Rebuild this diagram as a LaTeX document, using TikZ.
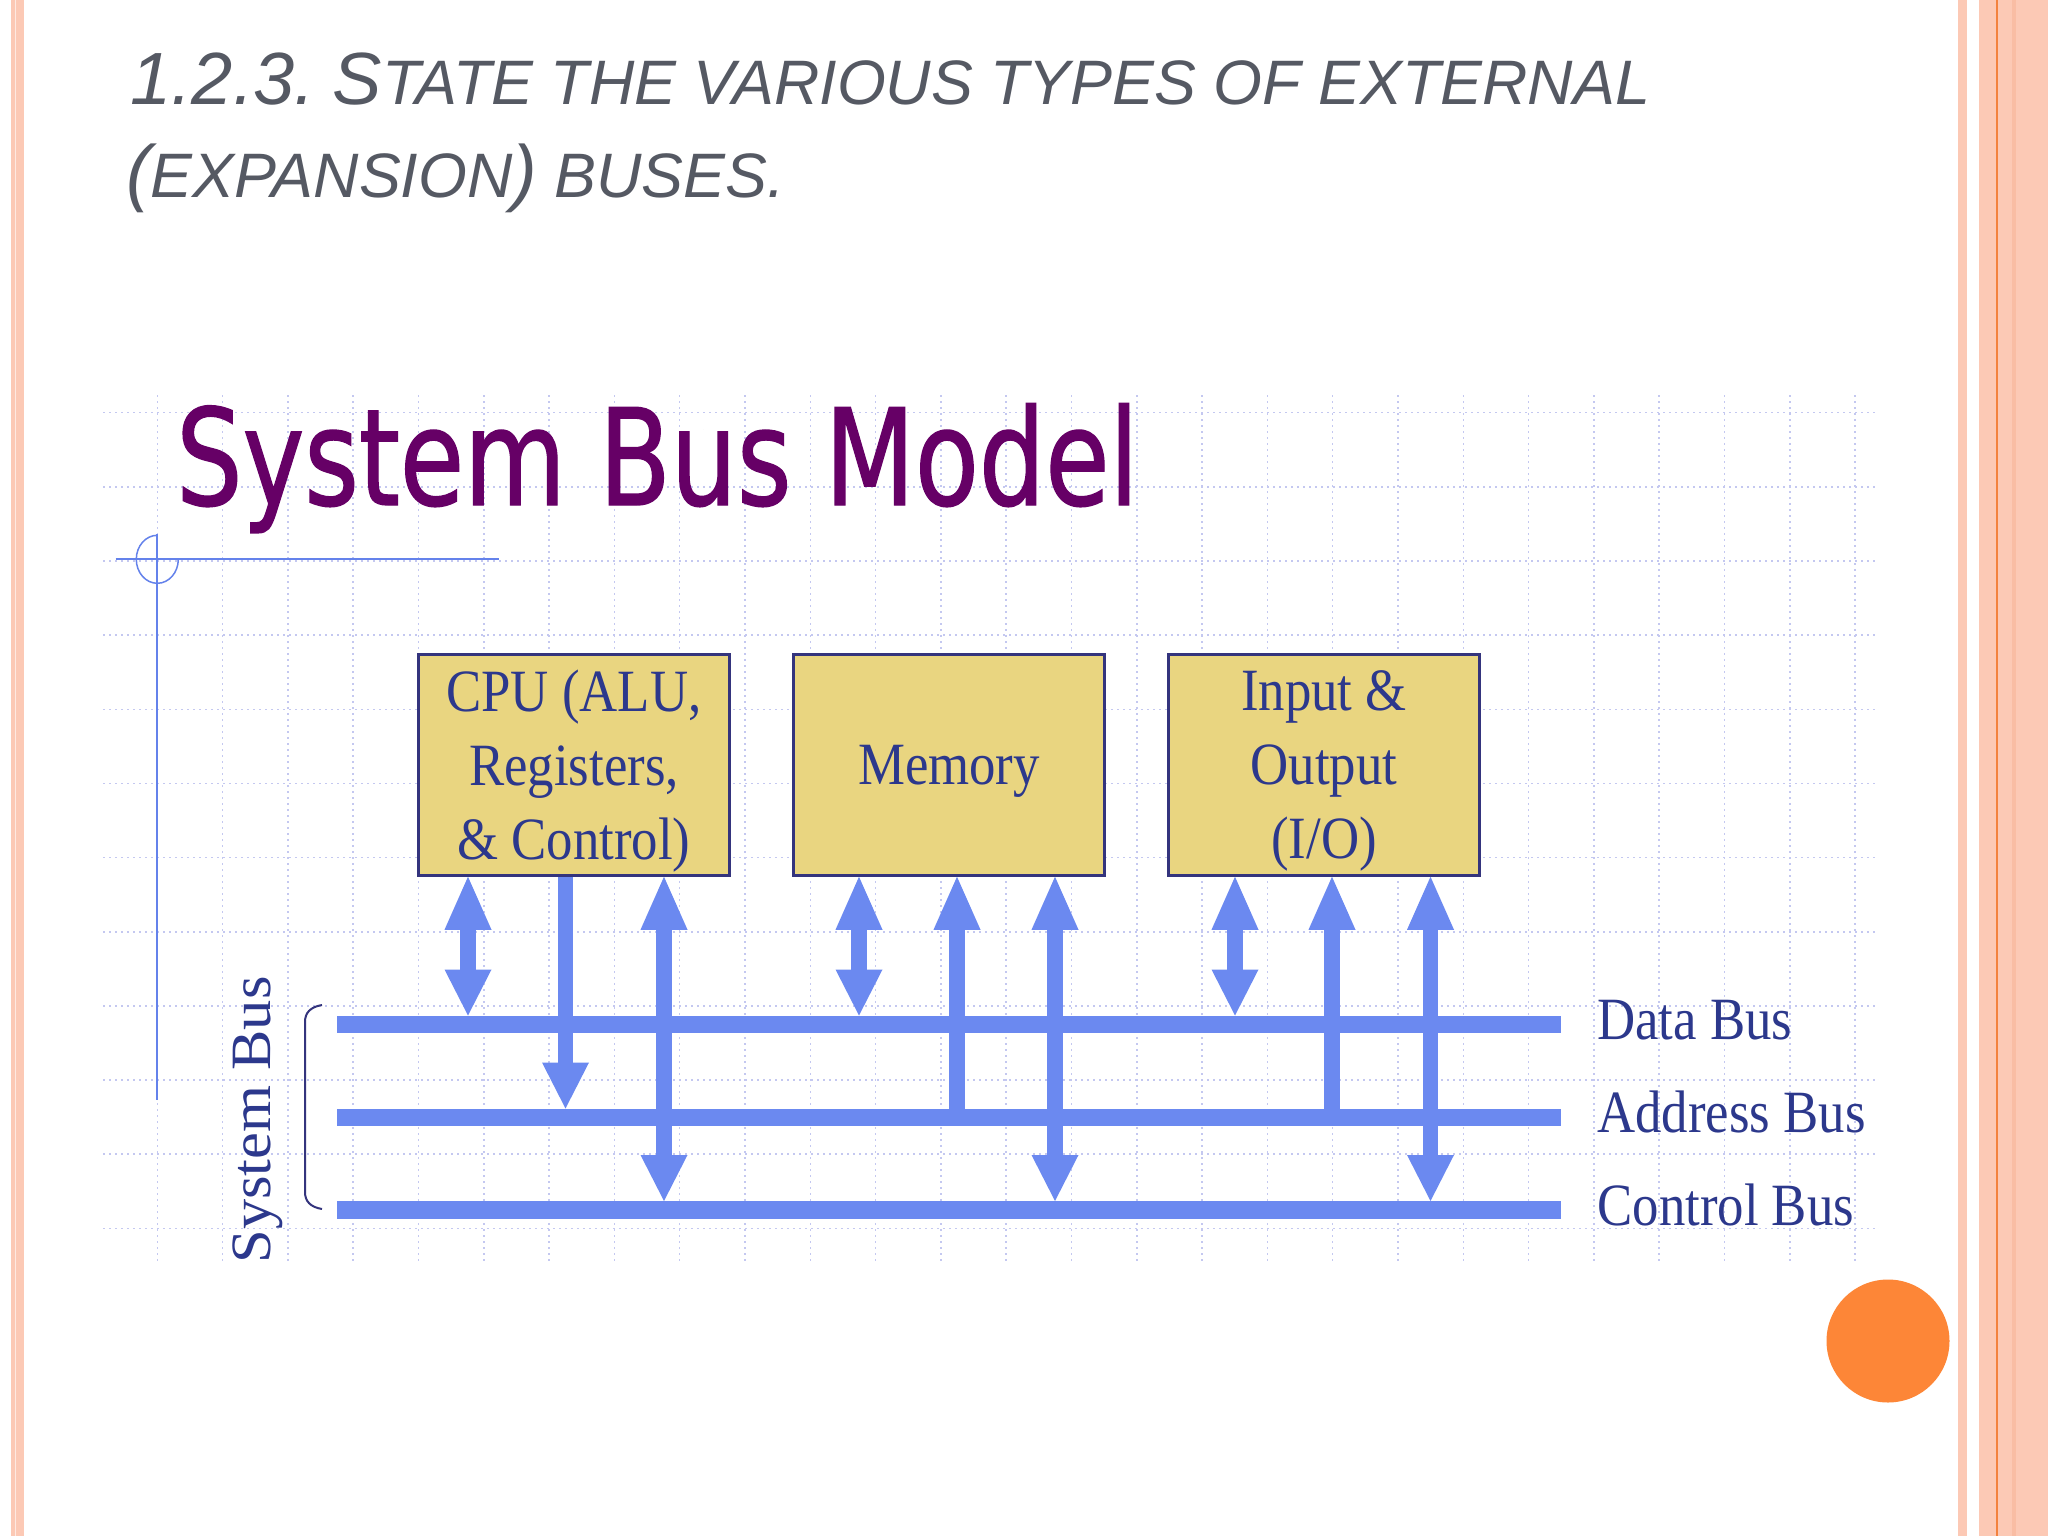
\documentclass[tikz,border=0pt]{standalone}
\usepackage{fontspec}
\usetikzlibrary{arrows.meta,calc}

\newfontfamily\slidefont{Liberation Sans}
\newfontfamily\modelfont[FakeStretch=0.78,FakeBold=1]{DejaVu Sans}
\newfontfamily\boxfont[FakeStretch=0.88]{Liberation Serif}
\newfontfamily\sidefont[FakeStretch=1.06]{Liberation Serif}

\newcommand\fullcap[1]{{\fontsize{74}{80}\selectfont #1}}
\newcommand\lowcap[1]{{\fontsize{62.8}{70}\selectfont #1}}

\definecolor{slidegray}{RGB}{85,89,99}
\definecolor{modelplum}{RGB}{102,0,102}
\definecolor{gridlav}{RGB}{196,200,240}
\definecolor{busblue}{RGB}{107,137,240}
\definecolor{boxfill}{RGB}{233,213,128}
\definecolor{boxline}{RGB}{52,52,125}
\definecolor{navytext}{RGB}{44,56,140}
\definecolor{markblue}{RGB}{100,130,235}
\definecolor{salmon}{RGB}{252,201,181}
\definecolor{salmondeep}{RGB}{249,189,164}
\definecolor{edgeorange}{RGB}{243,130,62}
\definecolor{dotorange}{RGB}{253,134,55}

\tikzset{
  gridline/.style={gridlav, line width=1.5pt, dash pattern=on 2pt off 4pt},
  unit/.style={draw=boxline, line width=2.5pt, fill=boxfill, minimum width=311pt,
    minimum height=221pt, inner sep=0pt, align=center, text=navytext, text depth=-8pt,
    font=\boxfont\fontsize{60}{74}\selectfont},
  busbar/.style={fill=busblue, minimum width=1224pt, minimum height=17.6pt, inner sep=0pt},
  buslabel/.style={inner sep=0pt, text=navytext, font=\boxfont\fontsize{60}{70}\selectfont},
  twoway/.style={busblue, line width=15.5pt,
    arrows={Triangle[length=53pt,width=47pt,line width=0pt]-Triangle[length=46pt,width=47pt,line width=0pt]}},
  downway/.style={busblue, line width=15.5pt,
    arrows={-Triangle[length=46pt,width=47pt,line width=0pt]}},
  upway/.style={busblue, line width=15.5pt,
    arrows={-Triangle[length=53pt,width=47pt,line width=0pt]}}
}

\begin{document}
\begin{tikzpicture}[x=1pt, y=-1pt]
  \useasboundingbox (0,0) rectangle (2048,1536);
  \fill[white] (0,0) rectangle (2048,1536);

  % slide borders
  \fill[salmon] (11,0) rectangle (24,1536);
  \fill[white!60!salmon] (14.5,0) rectangle (16,1536);
  \fill[salmon] (1958.3,0) rectangle (1966.7,1536);
  \fill[salmon] (1979.3,0) rectangle (2048,1536);
  \fill[edgeorange] (1995.7,0) rectangle (1998.3,1536);
  \fill[salmondeep] (2011.7,0) rectangle (2016,1536);

  % slide title
  \node[anchor=base west, inner sep=0pt, text=slidegray, font=\slidefont\itshape] (head1) at (130,105)
    {\fullcap{1.2.3.}\lowcap{\ }\fullcap{S}\lowcap{TATE THE VARIOUS TYPES OF EXTERNAL}};
  \node[anchor=base west, inner sep=0pt, text=slidegray, font=\slidefont\itshape] (head2) at (126,197)
    {\fullcap{(}\lowcap{EXPANSION}\fullcap{)}\lowcap{\ BUSES.}};

  % dotted grid behind the model
  \foreach \k in {0,...,26}
    \draw[gridline] ({157.3+65.3*\k},395) -- ({157.3+65.3*\k},1263);
  \foreach \k in {0,...,11}
    \draw[gridline] (103,{412.7+74.15*\k}) -- (1877,{412.7+74.15*\k});

  % heading of the model
  \node[anchor=base west, inner sep=0pt, text=modelplum, font=\modelfont\fontsize{134}{160}\selectfont] (model) at (176,505) {System Bus Model};

  % corner mark
  \draw[markblue, line width=2pt] (115.7,559.3) -- (499,559.3);
  \draw[markblue, line width=2pt] (157.3,534) -- (157.3,1100);
  \draw[markblue, line width=1.5pt] (157.3,535.3) arc[start angle=90, end angle=360, x radius=21pt, y radius=24pt];

  % units
  \node[unit] (cpu) at (574,765) {CPU (ALU,\\Registers,\\\& Control)};
  \node[unit] (mem) at (949,765) {Memory};
  \node[unit] (io) at (1324,765) {Input \&\\Output\\(I/O)};

  % buses
  \node[busbar] (data) at (949,1024.5) {};
  \node[busbar] (addr) at (949,1117.5) {};
  \node[busbar] (ctrl) at (949,1210) {};

  \node[buslabel, anchor=base west] (datalab) at ([xshift=36pt, yshift=-15pt]data.east) {Data Bus};
  \node[buslabel, anchor=base west] (addrlab) at ([xshift=36pt, yshift=-15pt]addr.east) {Address Bus};
  \node[buslabel, anchor=base west] (ctrllab) at ([xshift=36pt, yshift=-15pt]ctrl.east) {Control Bus};

  % system bus brace
  \draw[boxline, line width=2pt] (322,1005) .. controls (310,1007) and (305,1013) .. (305,1022)
    -- (305,1192) .. controls (305,1201) and (310,1207) .. (322,1209);
  \node[rotate=90, anchor=base, inner sep=0pt, text=navytext, font=\sidefont\fontsize{57}{66}\selectfont] (sysbus) at (270,1120) {System Bus};

  % taps from the units
  \coordinate (cpuA) at ([xshift=-106pt]cpu.south);
  \coordinate (cpuB) at ([xshift=-8.5pt]cpu.south);
  \coordinate (cpuC) at ([xshift=90pt]cpu.south);
  \coordinate (memA) at ([xshift=-90pt]mem.south);
  \coordinate (memB) at ([xshift=8pt]mem.south);
  \coordinate (memC) at ([xshift=106pt]mem.south);
  \coordinate (ioA) at ([xshift=-89pt]io.south);
  \coordinate (ioB) at ([xshift=8pt]io.south);
  \coordinate (ioC) at ([xshift=106.5pt]io.south);

  \draw[twoway] (cpuA) -- (cpuA |- data.north);
  \draw[downway] (cpuB) -- (cpuB |- addr.north);
  \draw[twoway] (cpuC) -- (cpuC |- ctrl.north);

  \draw[twoway] (memA) -- (memA |- data.north);
  \draw[upway] (memB |- addr.center) -- (memB);
  \draw[twoway] (memC) -- (memC |- ctrl.north);

  \draw[twoway] (ioA) -- (ioA |- data.north);
  \draw[upway] (ioB |- addr.center) -- (ioB);
  \draw[twoway] (ioC) -- (ioC |- ctrl.north);

  % slide dot
  \fill[dotorange] (1888,1341) circle[radius=61.5pt];
\end{tikzpicture}
\end{document}
